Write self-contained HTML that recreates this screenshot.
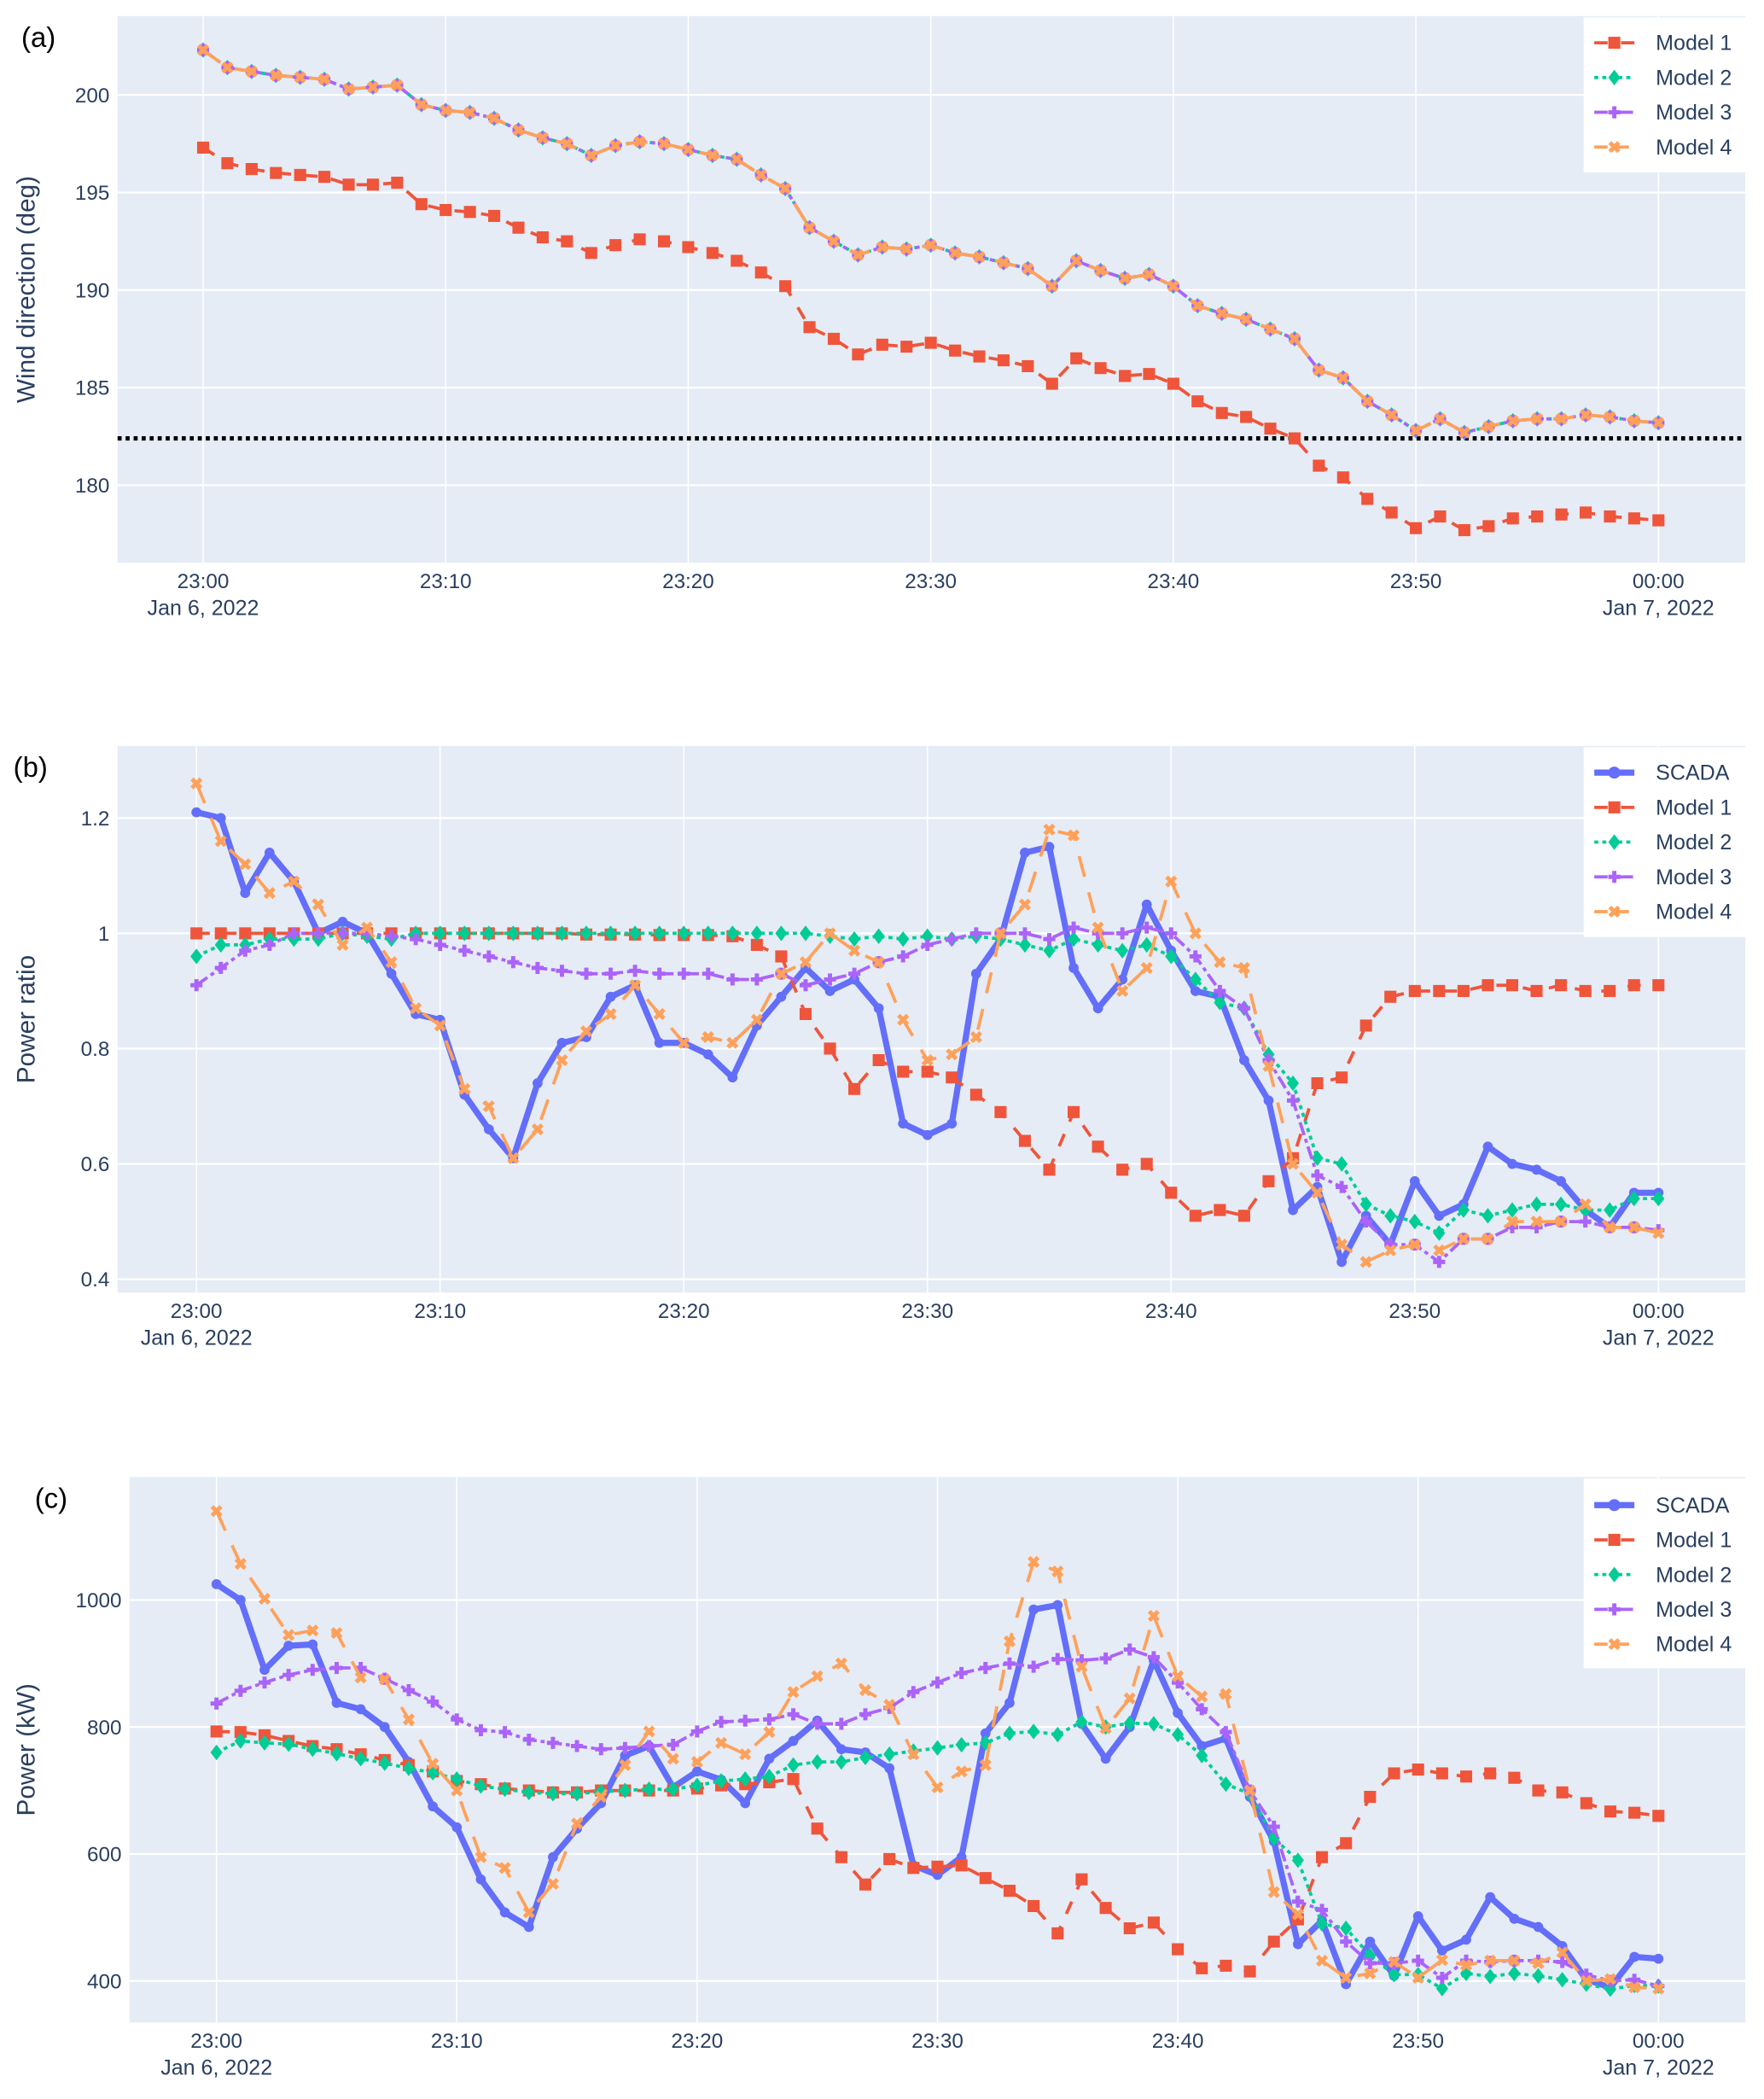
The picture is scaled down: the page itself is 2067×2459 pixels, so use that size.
<!DOCTYPE html>
<html><head><meta charset="utf-8"><style>
html,body{margin:0;padding:0;background:#fff;}
svg{display:block;}
text{font-family:"Liberation Sans",sans-serif;fill:#2a3f5f;}
</style></head><body>
<svg id="chart" width="2067" height="2459" viewBox="0 0 1320 1570.3" preserveAspectRatio="none" xmlns="http://www.w3.org/2000/svg"></svg>
<script>
// ---- data (one value per minute, 23:00 .. 00:00) ----
const minutes = Array.from({length:61},(_,i)=>i);
const xTickLabels = ["23:00","23:10","23:20","23:30","23:40","23:50","00:00"];
const xTickMinutes = [0,10,20,30,40,50,60];
const dateLabels = ["Jan 6, 2022","Jan 7, 2022"];

const windM1 = [197.3,196.5,196.2,196.0,195.9,195.8,195.4,195.4,195.5,194.4,194.1,194.0,193.8,193.2,192.7,192.5,191.9,192.3,192.6,192.5,192.2,191.9,191.5,190.9,190.2,188.1,187.5,186.7,187.2,187.1,187.3,186.9,186.6,186.4,186.1,185.2,186.5,186.0,185.6,185.7,185.2,184.3,183.7,183.5,182.9,182.4,181.0,180.4,179.3,178.6,177.8,178.4,177.7,177.9,178.3,178.4,178.5,178.6,178.4,178.3,178.2];
const windM3 = [202.3,201.4,201.2,201.0,200.9,200.8,200.3,200.4,200.5,199.5,199.2,199.1,198.8,198.2,197.8,197.5,196.9,197.4,197.6,197.5,197.2,196.9,196.7,195.9,195.2,193.2,192.5,191.8,192.2,192.1,192.3,191.9,191.7,191.4,191.1,190.2,191.5,191.0,190.6,190.8,190.2,189.2,188.8,188.5,188.0,187.5,185.9,185.5,184.3,183.6,182.8,183.4,182.7,183.0,183.3,183.4,183.4,183.6,183.5,183.3,183.2];
const windM2 = windM3.slice();
const windM4 = windM3.slice();
const windRef = 182.4;
const windTicks = [180,185,190,195,200];

const prScada = [1.21,1.20,1.07,1.14,1.09,1.00,1.02,1.00,0.93,0.86,0.85,0.72,0.66,0.61,0.74,0.81,0.82,0.89,0.91,0.81,0.81,0.79,0.75,0.84,0.89,0.94,0.90,0.92,0.87,0.67,0.65,0.67,0.93,0.99,1.14,1.15,0.94,0.87,0.92,1.05,0.97,0.90,0.89,0.78,0.71,0.52,0.56,0.43,0.51,0.46,0.57,0.51,0.53,0.63,0.60,0.59,0.57,0.52,0.49,0.55,0.55];
const prM1 = [1,1,1,1,1,1,1,1,1,1,1,1,1,1,1,1,0.998,0.998,0.998,0.997,0.997,0.997,0.995,0.98,0.96,0.86,0.80,0.73,0.78,0.76,0.76,0.75,0.72,0.69,0.64,0.59,0.69,0.63,0.59,0.60,0.55,0.51,0.52,0.51,0.57,0.61,0.74,0.75,0.84,0.89,0.90,0.90,0.90,0.91,0.91,0.90,0.91,0.90,0.90,0.91,0.91];
const prM2 = [0.96,0.98,0.98,0.99,0.99,0.99,1.0,0.995,0.99,1.0,1.0,1.0,1.0,1.0,1.0,1.0,1.0,1.0,1.0,1.0,1.0,1.0,1.0,1.0,1.0,1.0,0.995,0.99,0.995,0.99,0.995,0.99,0.995,0.99,0.98,0.97,0.99,0.98,0.97,0.98,0.96,0.92,0.88,0.87,0.79,0.74,0.61,0.60,0.53,0.51,0.50,0.48,0.52,0.51,0.52,0.53,0.53,0.52,0.52,0.54,0.54];
const prM3 = [0.91,0.94,0.97,0.98,1.0,1.0,1.0,1.0,0.995,0.99,0.98,0.97,0.96,0.95,0.94,0.935,0.93,0.93,0.935,0.93,0.93,0.93,0.92,0.92,0.93,0.91,0.92,0.93,0.95,0.96,0.98,0.99,1.0,1.0,1.0,0.99,1.01,1.0,1.0,1.01,1.0,0.96,0.90,0.87,0.78,0.71,0.58,0.56,0.50,0.46,0.46,0.43,0.47,0.47,0.49,0.49,0.50,0.50,0.49,0.49,0.485];
const prM4 = [1.26,1.16,1.12,1.07,1.09,1.05,0.98,1.01,0.95,0.87,0.84,0.73,0.70,0.61,0.66,0.78,0.83,0.86,0.91,0.86,0.81,0.82,0.81,0.85,0.93,0.95,1.00,0.97,0.95,0.85,0.78,0.79,0.82,1.0,1.05,1.18,1.17,1.01,0.90,0.94,1.09,1.00,0.95,0.94,0.77,0.60,0.55,0.46,0.43,0.45,0.46,0.45,0.47,0.47,0.50,0.50,0.50,0.53,0.49,0.49,0.48];
const prTicks = [0.4,0.6,0.8,1.0,1.2];
const prTickLabels = ["0.4","0.6","0.8","1","1.2"];

const pwScada = [1025,1000,890,928,930,838,828,800,745,675,642,560,508,485,595,640,680,755,770,705,730,717,680,750,778,810,765,760,735,582,567,595,790,838,985,992,805,750,800,905,822,770,782,690,620,458,495,395,462,408,502,448,465,532,498,485,455,402,390,438,435];
const pwM1 = [793,792,787,778,770,765,757,748,740,730,715,710,703,700,697,697,700,700,700,700,703,708,710,713,718,640,595,552,592,578,580,582,562,542,518,475,560,515,483,492,450,420,424,415,462,497,595,617,690,727,733,727,722,727,720,700,697,680,667,665,660];
const pwM2 = [760,778,775,773,765,758,750,743,735,728,718,707,702,697,695,695,698,700,702,702,708,715,718,722,740,745,745,752,757,762,767,772,775,790,793,788,808,800,806,805,788,755,710,695,625,590,490,483,440,410,410,388,412,407,412,408,402,395,387,393,392];
const pwM3 = [837,857,870,882,890,893,893,876,858,840,812,795,792,780,775,770,765,767,770,772,793,808,810,812,820,805,805,820,830,855,870,885,893,900,895,907,905,908,922,910,870,828,792,700,643,525,512,462,428,428,432,405,432,430,432,432,430,410,400,402,392];
const pwM4 = [1140,1057,1002,945,952,948,878,875,812,742,700,595,578,508,553,648,690,740,793,750,745,775,757,792,855,880,900,858,835,757,705,730,740,935,1060,1045,895,798,845,975,880,848,852,700,540,505,432,405,412,430,405,433,425,432,432,428,445,400,403,390,388];
const pwTicks = [400,600,800,1000];

// ---- drawing ----
const NS="http://www.w3.org/2000/svg";
const svg=document.getElementById('chart');
function mk(tag,attrs,parent){const e=document.createElementNS(NS,tag);for(const k in attrs)e.setAttribute(k,attrs[k]);(parent||svg).appendChild(e);return e;}

const STY={
 scada:{c:'#636EFA',w:4.6,dash:'',m:'circle',label:'SCADA'},
 m1:{c:'#EF553B',w:2.4,dash:'10,10',m:'square',label:'Model 1'},
 m2:{c:'#00CC96',w:2.4,dash:'3,3',m:'diamond',label:'Model 2'},
 m3:{c:'#AB63FA',w:2.4,dash:'10,3,3,3',m:'cross',label:'Model 3'},
 m4:{c:'#FFA15A',w:2.4,dash:'16,12',m:'x',label:'Model 4'}
};
function markerPath(type,x,y,s){
 const r=s/2;
 if(type==='square')return `M${x-r},${y-r}h${s}v${s}h${-s}Z`;
 if(type==='diamond')return `M${x},${y-r*1.3}L${x+r},${y}L${x},${y+r*1.3}L${x-r},${y}Z`;
 if(type==='cross'){const a=r*0.35;return `M${x-a},${y-r}h${2*a}v${r-a}h${r-a}v${2*a}h${a-r}v${r-a}h${-2*a}v${a-r}h${a-r}v${-2*a}h${r-a}Z`;}
 if(type==='x'){const a=r*0.35*0.707*2,b=r;return `M${x-b},${y-b+a}L${x-b+a},${y-b}L${x},${y-a}L${x+b-a},${y-b}L${x+b},${y-b+a}L${x+a},${y}L${x+b},${y+b-a}L${x+b-a},${y+b}L${x},${y+a}L${x-b+a},${y+b}L${x-b},${y+b-a}L${x-a},${y}Z`;}
 return `M${x-r},${y}a${r},${r} 0 1,0 ${s},0a${r},${r} 0 1,0 ${-s},0`;
}

function panel(cfg){
 const g=mk('g',{});
 
 
 const {L,R,T,B,x0,x60,yv0,yp0,yv1,yp1}=cfg;
 const X=m=>x0+(x60-x0)*m/60;
 const Y=v=>yp0+(v-yv0)*(yp1-yp0)/(yv1-yv0);
 const bg=mk('rect',{x:L,y:T,width:R-L,height:B-T,fill:'#E5ECF6'},g);
 
 
 xTickMinutes.forEach((m,i)=>{
  mk('line',{x1:X(m),x2:X(m),y1:T,y2:B,stroke:'#fff','stroke-width':1},g);
  const t=mk('text',{x:X(m),y:B+19,'text-anchor':'middle','font-size':15.5},g);t.textContent=xTickLabels[i];
  
  
 });
 [[0,dateLabels[0]],[60,dateLabels[1]]].forEach(([m,s])=>{
  const t=mk('text',{x:X(m),y:B+39,'text-anchor':'middle','font-size':16},g);t.textContent=s;
  
  
 });
 cfg.ticks.forEach((v,i)=>{
  mk('line',{x1:L,x2:R,y1:Y(v),y2:Y(v),stroke:'#fff','stroke-width':1.4},g);
  const t=mk('text',{x:L-6,y:Y(v)+5.5,'text-anchor':'end','font-size':15.5},g);t.textContent=cfg.tickLabels?cfg.tickLabels[i]:String(v);
  
  
 });
 const yt=mk('text',{x:0,y:0,'text-anchor':'middle','font-size':19,transform:`translate(26,${(T+B)/2}) rotate(-90)`},g);
 yt.textContent=cfg.ytitle;
 
 
 const pl=mk('text',{x:cfg.lblX,y:T+23,'font-size':21,style:'fill:#000'},g);pl.textContent=cfg.label;
 
 
 if(cfg.ref!==undefined){
  const rl=mk('line',{x1:L,x2:R,y1:Y(cfg.ref),y2:Y(cfg.ref),stroke:'#000','stroke-width':3.2,'stroke-dasharray':'3,3'},g);
  
  
 }
 cfg.series.forEach(([key,data])=>{
  const s=STY[key];
  const sg=mk('g',{},g);
  
  
  const d=data.map((v,i)=>(i?'L':'M')+X(minutes[i]).toFixed(2)+','+Y(v).toFixed(2)).join('');
  mk('path',{d,fill:'none',stroke:s.c,'stroke-width':s.w,'stroke-dasharray':s.dash,'stroke-linejoin':'round'},sg);
  const ms=key==='scada'?7.5:9;
  mk('path',{d:data.map((v,i)=>markerPath(s.m,X(minutes[i]),Y(v),ms)).join(''),fill:s.c},sg);
 });
 // legend
 const lg=mk('g',{},g);
 
 
 const keys=cfg.legend;
 mk('rect',{x:1185,y:T+1,width:121,height:keys.length*26+12,fill:'#fff'},lg);
 keys.forEach((k,i)=>{
  const s=STY[k];const yy=T+cfg.legY+i*26;
  const e=mk('g',{},lg);
  
  
  mk('line',{x1:1193,x2:1223,y1:yy,y2:yy,stroke:s.c,'stroke-width':s.w,'stroke-dasharray':k==='m4'?'10,6':s.dash},e);
  mk('path',{d:markerPath(s.m,1208,yy,9),fill:s.c},e);
  const t=mk('text',{x:1239,y:yy+5.5,'font-size':16},e);t.textContent=s.label;
 });
}

panel({name:'panel-a-wind-direction',L:88,R:1306,T:12,B:421,x0:152,x60:1241,yv0:200,yp0:71,yv1:180,yp1:363,
 ticks:windTicks,ytitle:'Wind direction (deg)',label:'(a)',lblX:16,ref:windRef,
 series:[['m1',windM1],['m2',windM2],['m3',windM3],['m4',windM4]],legend:['m1','m2','m3','m4'],legY:20});
panel({name:'panel-b-power-ratio',L:88,R:1306,T:558,B:967,x0:147,x60:1241,yv0:1.2,yp0:612,yv1:0.4,yp1:957,
 ticks:prTicks,tickLabels:prTickLabels,ytitle:'Power ratio',label:'(b)',lblX:10,
 series:[['scada',prScada],['m1',prM1],['m2',prM2],['m3',prM3],['m4',prM4]],legend:['scada','m1','m2','m3','m4'],legY:20});
panel({name:'panel-c-power',L:97,R:1306,T:1105,B:1513,x0:162,x60:1241,yv0:1000,yp0:1197,yv1:400,yp1:1482,
 ticks:pwTicks,ytitle:'Power (kW)',label:'(c)',lblX:26,
 series:[['scada',pwScada],['m1',pwM1],['m2',pwM2],['m3',pwM3],['m4',pwM4]],legend:['scada','m1','m2','m3','m4'],legY:21});
</script>
</body></html>
